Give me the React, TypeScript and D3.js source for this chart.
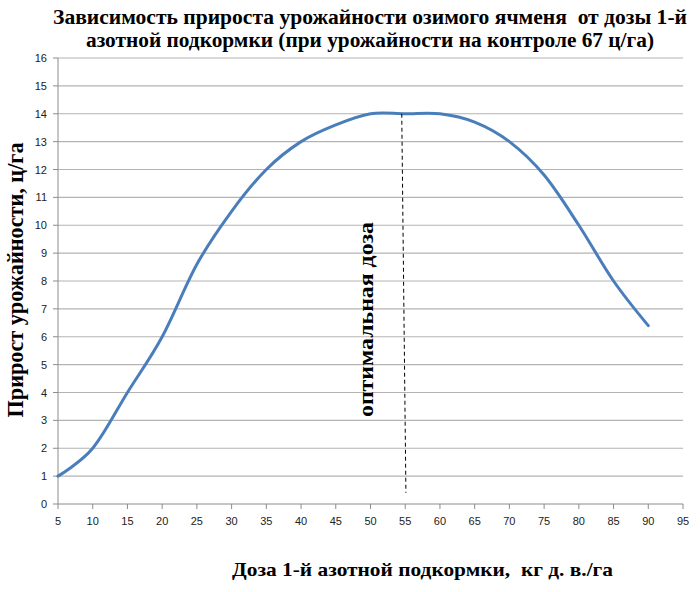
import React from "react";
import * as d3 from "d3";

const doses = [5, 10, 15, 20, 25, 30, 35, 40, 45, 50, 55, 60, 65, 70, 75, 80, 85, 90];
const gains = [1, 2, 4, 6, 8.6, 10.5, 12, 13, 13.6, 14, 14, 14, 13.7, 13, 11.8, 10, 8, 6.4];
const xTicks = [5, 10, 15, 20, 25, 30, 35, 40, 45, 50, 55, 60, 65, 70, 75, 80, 85, 90, 95];
const yTicks = [0, 1, 2, 3, 4, 5, 6, 7, 8, 9, 10, 11, 12, 13, 14, 15, 16];
const optimalX = [54.5, 55.1];
const optimalY = [14, 0.4];

const titleLines = [
  "Зависимость прироста урожайности озимого ячменя  от дозы 1-й",
  "азотной подкормки (при урожайности на контроле 67 ц/га)",
];
const yTitle = "Прирост урожайности, ц/га";
const xTitle = "Доза 1-й азотной подкормки,  кг д. в./га";
const annotation = "оптимальная доза";

export default function App() {
  const W = 700, H = 592;
  const x = d3.scaleLinear().domain([5, 95]).range([58, 683]);
  const y = d3.scaleLinear().domain([0, 16]).range([504, 58]);
  const line = d3
    .line<number>()
    .x((_, i) => x(doses[i]))
    .y((d) => y(d))
    .curve(d3.curveCatmullRom.alpha(0));
  const serif = "'Liberation Serif', 'Times New Roman', serif";
  const sans = "'Liberation Sans', Arial, sans-serif";
  const titleScale = [0.98, 0.97];
  return (
    <svg width={W} height={H} style={{ position: "absolute", left: 0, top: 0, background: "#fff" }}>
      <rect width={W} height={H} fill="#fff" />
      {titleLines.map((t, i) => (
        <g key={i} transform={`translate(370,${24 + i * 23}) scale(${titleScale[i]},1)`}>
          <text
            x={0}
            y={0}
            textAnchor="middle"
            fontFamily={serif}
            fontWeight="bold"
            fontSize={22}
            style={{ whiteSpace: "pre" }}
          >
            {t}
          </text>
        </g>
      ))}
      {yTicks.map((t) => (
        <g key={t}>
          {t > 0 && <line x1={x(5)} x2={x(95)} y1={y(t)} y2={y(t)} stroke="#b3b3b3" strokeWidth={1.2} />}
          <line x1={53} x2={58} y1={y(t)} y2={y(t)} stroke="#8c8c8c" />
          <text x={47} y={y(t) + 4} textAnchor="end" fontFamily={sans} fontSize={11} fill="#222">
            {t}
          </text>
        </g>
      ))}
      <line x1={58} x2={58} y1={y(16)} y2={y(0)} stroke="#8c8c8c" />
      <line x1={x(5)} x2={x(95)} y1={y(0)} y2={y(0)} stroke="#8c8c8c" />
      {xTicks.map((t) => (
        <g key={t}>
          <line x1={x(t)} x2={x(t)} y1={504} y2={509} stroke="#8c8c8c" />
          <text x={x(t)} y={525} textAnchor="middle" fontFamily={sans} fontSize={11} fill="#222">
            {t}
          </text>
        </g>
      ))}
      <path d={line(gains) || ""} fill="none" stroke="#4a7ebb" strokeWidth={3} strokeLinecap="round" />
      <line
        x1={x(optimalX[0])}
        x2={x(optimalX[1])}
        y1={y(optimalY[0])}
        y2={y(optimalY[1])}
        stroke="#000"
        strokeWidth={1}
        strokeDasharray="4,3"
      />
      <text
        transform={`translate(373,319.5) rotate(-90)`}
        textAnchor="middle"
        fontFamily={serif}
        fontWeight="bold"
        fontSize={20}
        textLength={195}
        lengthAdjust="spacingAndGlyphs"
      >
        {annotation}
      </text>
      <text
        transform={`translate(23,280) rotate(-90)`}
        textAnchor="middle"
        fontFamily={serif}
        fontWeight="bold"
        fontSize={23}
        textLength={275}
        lengthAdjust="spacingAndGlyphs"
      >
        {yTitle}
      </text>
      <text
        x={422.5}
        y={576}
        textAnchor="middle"
        fontFamily={serif}
        fontWeight="bold"
        fontSize={19}
        textLength={381}
        lengthAdjust="spacingAndGlyphs"
        style={{ whiteSpace: "pre" }}
      >
        {xTitle}
      </text>
    </svg>
  );
}
